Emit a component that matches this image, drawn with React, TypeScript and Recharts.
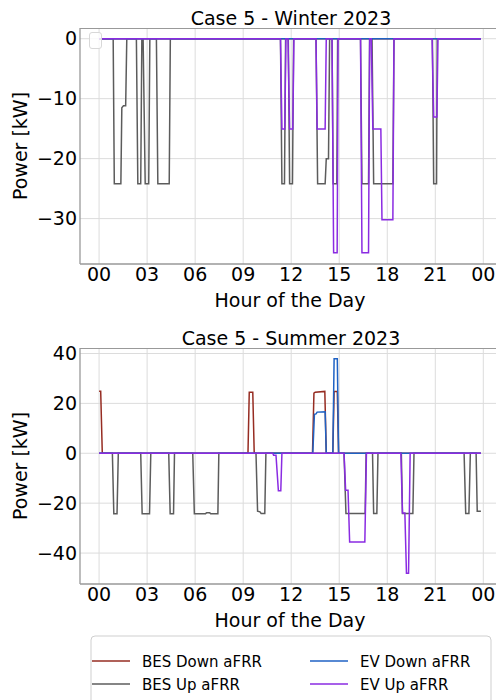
import React from "react";
import { CartesianGrid, Line, LineChart, XAxis, YAxis } from "recharts";

type Pair = [number, number];

const hourTicks = [0, 3, 6, 9, 12, 15, 18, 21, 24];
const hourLabels = ["00", "03", "06", "09", "12", "15", "18", "21", "00"];

const winterTicks = [-30, -20, -10, 0];
const summerTicks = [-40, -20, 0, 20, 40];

// winter 2023 (hour, kW)
const winterBesDown: Pair[] = [[0, 0], [23.85, 0]];
const winterBesUp: Pair[] = [
  [0, 0], [0.88, 0], [0.95, -24.2], [1.36, -24.2], [1.42, -11.5], [1.52, -11.2], [1.66, -11.2], [1.73, 0],
  [2.33, 0], [2.42, -24.2], [2.6, -24.2], [2.67, 0],
  [2.75, 0], [2.88, -24.2], [3.1, -24.2], [3.17, 0],
  [3.58, 0], [3.67, -24.2], [4.38, -24.2], [4.45, 0],
  [11.33, 0], [11.42, -24.2], [11.58, -24.2], [11.65, 0],
  [11.82, 0], [11.9, -24.2], [12.08, -24.2], [12.15, 0],
  [13.55, 0], [13.65, -24.2], [14.12, -24.2], [14.19, -20], [14.33, -20], [14.4, 0],
  [14.55, 0], [14.62, -24.2], [14.85, -24.2], [14.9, 0],
  [16.33, 0], [16.42, -24.2], [16.83, -24.2], [16.9, 0],
  [17.05, 0], [17.15, -24.2], [18.35, -24.2], [18.42, 0],
  [20.82, 0], [20.9, -24.2], [21.08, -24.2], [21.12, 0],
  [23.85, 0],
];
const winterEvDown: Pair[] = [[0, 0], [23.85, 0]];
const winterEvUp: Pair[] = [
  [0, 0], [11.33, 0], [11.42, -15.05], [11.6, -15.05], [11.67, 0],
  [11.8, 0], [11.9, -15.05], [12.1, -15.05], [12.17, 0],
  [13.55, 0], [13.62, -15.05], [14.12, -15.05], [14.19, 0],
  [14.55, 0], [14.65, -35.7], [14.87, -35.7], [14.93, 0],
  [16.33, 0], [16.42, -35.7], [16.83, -35.7], [16.9, 0],
  [17.0, 0], [17.1, -15.05], [17.6, -15.05], [17.67, -30.2], [18.35, -30.2], [18.42, 0],
  [20.8, 0], [20.9, -13.05], [21.1, -13.05], [21.17, 0],
  [23.85, 0],
];

// summer 2023 (hour, kW)
const summerBesDown: Pair[] = [
  [0, 24.9], [0.1, 24.9], [0.2, 0],
  [9.3, 0], [9.38, 24.5], [9.6, 24.5], [9.69, 0],
  [13.33, 0], [13.42, 24.1], [13.5, 24.5], [14.1, 24.8], [14.19, 0],
  [14.6, 0], [14.68, 24.8], [14.88, 24.8], [14.96, 0],
  [23.85, 0],
];
const summerBesUp: Pair[] = [
  [0, 0], [0.83, 0], [0.92, -24.2], [1.12, -24.2], [1.2, 0],
  [2.6, 0], [2.69, -24.2], [3.15, -24.2], [3.23, 0],
  [4.35, 0], [4.44, -24.2], [4.65, -24.2], [4.71, 0],
  [5.85, 0], [5.95, -24.2], [6.65, -24.2], [6.72, -23.8], [6.9, -23.8], [6.97, -24.2], [7.42, -24.2], [7.48, 0],
  [9.8, 0], [9.9, -23.2], [10.05, -23.5], [10.12, -24.1], [10.35, -24.1], [10.42, 0],
  [15.3, 0], [15.42, -24.1], [16.62, -24.1], [16.68, 0],
  [17.08, 0], [17.15, -24.1], [17.35, -24.1], [17.42, 0],
  [18.88, 0], [18.95, -24.1], [19.6, -24.1], [19.67, 0],
  [22.8, 0], [22.9, -24.1], [23.1, -24.1], [23.19, 0],
  [23.55, 0], [23.62, -23.2], [23.85, -23.2],
];
const summerEvDown: Pair[] = [
  [0, 0], [13.35, 0], [13.45, 15.6], [13.55, 15.8], [13.62, 16.5], [14.12, 16.6], [14.19, 0],
  [14.6, 0], [14.68, 37.9], [14.88, 37.9], [14.96, 0],
  [23.85, 0],
];
const summerEvUp: Pair[] = [
  [0, 0], [10.85, 0], [10.9, -0.8], [11.05, -0.8], [11.2, -15], [11.35, -15], [11.42, 0],
  [15.3, 0], [15.4, -14.8], [15.55, -14.8], [15.65, -35.6], [16.6, -35.6], [16.7, 0],
  [18.85, 0], [18.95, -23.9], [19.1, -23.9], [19.2, -48.1], [19.33, -48.1], [19.43, 0],
  [23.85, 0],
];

const seriesNames = ["BES Down aFRR", "BES Up aFRR", "EV Down aFRR", "EV Up aFRR"];
const seriesColors = ["#962c22", "#5c5c5c", "#1f62c4", "#8a2be2"];

const FONT = "DejaVu Sans, sans-serif";
const X_DOMAIN = [-1.1925, 25.0425];

const toRows = (p: Pair[]) => p.map(([t, v]) => ({ t, v }));
const fmtY = (v: number) => (v < 0 ? "\u2212" + Math.abs(v) : String(v));
const fmtX = (v: number) => hourLabels[hourTicks.indexOf(v)] ?? "";

type PanelProps = {
  top: number;
  title: string;
  yDomain: number[];
  yTicks: number[];
  series: Pair[][];
  emptyLegend?: boolean;
};

function Panel({ top, title, yDomain, yTicks, series, emptyLegend }: PanelProps) {
  return (
    <div style={{ position: "absolute", left: 0, top, width: 520, height: 320 }}>
      <LineChart width={520} height={300} margin={{ top: 28, right: 20, bottom: 0, left: 0 }}>
        <CartesianGrid stroke="#dcdcdc" strokeWidth={1} syncWithTicks />
        <XAxis
          dataKey="t"
          type="number"
          domain={X_DOMAIN}
          allowDataOverflow
          ticks={hourTicks}
          interval={0}
          tickFormatter={fmtX}
          tickLine={false}
          tickSize={0}
          tickMargin={4}
          height={36}
          axisLine={{ stroke: "#999", strokeWidth: 1.3 }}
          tick={{ fill: "#000", fontSize: 19, fontFamily: FONT }}
        />
        <YAxis
          type="number"
          domain={yDomain}
          allowDataOverflow
          ticks={yTicks}
          interval={0}
          tickFormatter={fmtY}
          tickLine={false}
          tickSize={0}
          tickMargin={3}
          width={80}
          axisLine={{ stroke: "#999", strokeWidth: 1.3 }}
          tick={{ fill: "#000", fontSize: 19, fontFamily: FONT }}
        />
        {series.map((s, i) => (
          <Line
            key={seriesNames[i]}
            data={toRows(s)}
            dataKey="v"
            name={seriesNames[i]}
            type="linear"
            stroke={seriesColors[i]}
            strokeWidth={1.5}
            dot={false}
            activeDot={false}
            isAnimationActive={false}
          />
        ))}
      </LineChart>
      {/* top spine (right spine falls outside the page) */}
      <div
        style={{
          position: "absolute",
          left: 80,
          top: 28,
          width: 440,
          height: 0,
          borderTop: "1.3px solid #999",
          pointerEvents: "none",
        }}
      />
      {emptyLegend && (
        <div
          style={{
            position: "absolute",
            left: 89,
            top: 32,
            width: 13,
            height: 17,
            border: "1px solid #d8d8d8",
            borderRadius: 3,
            background: "rgba(255,255,255,0.8)",
            boxSizing: "border-box",
          }}
        />
      )}
      <svg
        width={496}
        height={320}
        style={{ position: "absolute", left: 0, top: 0, pointerEvents: "none" }}
        fontFamily={FONT}
      >
        <text x={291} y={24.5} textAnchor="middle" fontSize={19} fill="#000">
          {title}
        </text>
        <text x={290} y={307} textAnchor="middle" fontSize={19} fill="#000">
          Hour of the Day
        </text>
        <text
          transform="translate(27,146) rotate(-90)"
          textAnchor="middle"
          fontSize={19}
          fill="#000"
        >
          Power [kW]
        </text>
      </svg>
    </div>
  );
}

function FigureLegend() {
  const rows = [
    [0, 0],
    [1, 1],
    [2, 0],
    [3, 1],
  ];
  return (
    <svg
      width={404}
      height={80}
      style={{ position: "absolute", left: 90, top: 635 }}
      fontFamily={FONT}
    >
      <rect x={1} y={1} width={400} height={76} rx={4} fill="#fff" stroke="#cfcfcf" />
      {rows.map(([i, r]) => {
        const col = i < 2 ? 0 : 1;
        const x0 = col === 0 ? 2 : 220;
        const y = 26 + r * 23;
        return (
          <g key={seriesNames[i]}>
            <line x1={x0} x2={x0 + 38} y1={y} y2={y} stroke={seriesColors[i]} strokeWidth={1.5} />
            <text x={x0 + 50} y={y + 5.5} fontSize={15} fill="#000">
              {seriesNames[i]}
            </text>
          </g>
        );
      })}
    </svg>
  );
}

export default function App() {
  return (
    <div
      style={{
        position: "fixed",
        left: 0,
        top: 0,
        width: 496,
        height: 700,
        overflow: "hidden",
        background: "#fff",
        fontFamily: FONT,
      }}
    >
      <Panel
        top={0}
        title="Case 5 - Winter 2023"
        yDomain={[-37.57, 1.785]}
        yTicks={winterTicks}
        series={[winterBesDown, winterBesUp, winterEvDown, winterEvUp]}
        emptyLegend
      />
      <Panel
        top={320}
        title="Case 5 - Summer 2023"
        yDomain={[-52.4, 42.2]}
        yTicks={summerTicks}
        series={[summerBesDown, summerBesUp, summerEvDown, summerEvUp]}
      />
      <FigureLegend />
    </div>
  );
}
